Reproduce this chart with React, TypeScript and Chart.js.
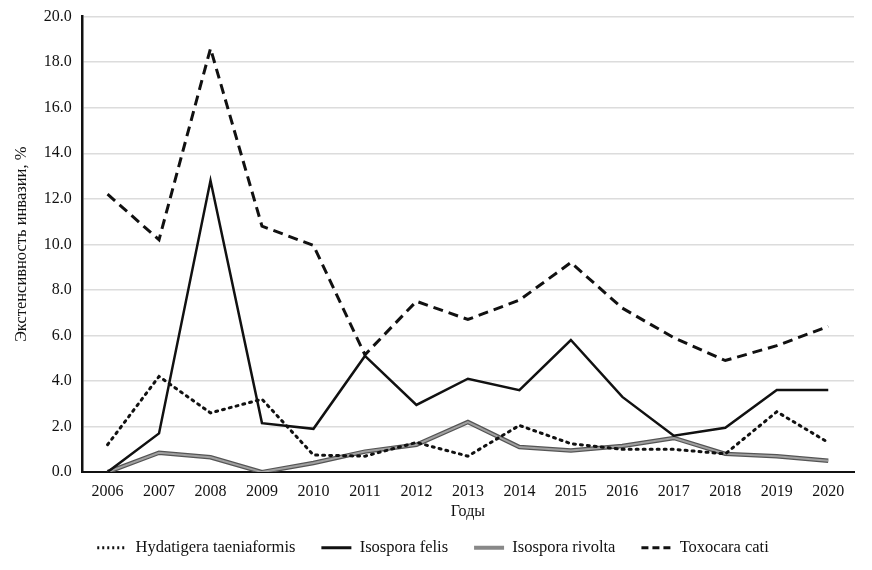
import React, { useEffect, useRef } from "react";
import { Chart, registerables } from "chart.js";

Chart.register(...registerables);

const years = ["2006","2007","2008","2009","2010","2011","2012","2013","2014","2015","2016","2017","2018","2019","2020"];
const hydatigera = [1.2, 4.2, 2.6, 3.2, 0.75, 0.7, 1.3, 0.7, 2.05, 1.25, 1.0, 1.0, 0.8, 2.65, 1.3];
const isosporaFelis = [0.0, 1.7, 12.8, 2.15, 1.9, 5.1, 2.95, 4.1, 3.6, 5.8, 3.3, 1.6, 1.95, 3.6, 3.6];
const isosporaRivolta = [0.0, 0.85, 0.65, 0.0, 0.4, 0.9, 1.2, 2.2, 1.1, 0.95, 1.15, 1.5, 0.8, 0.7, 0.5];
const toxocara = [12.2, 10.2, 18.6, 10.8, 9.95, 5.15, 7.5, 6.7, 7.55, 9.2, 7.2, 5.9, 4.9, 5.55, 6.4];

const FONT = "'Liberation Serif', 'Times New Roman', serif";

export default function App() {
  const ref = useRef<HTMLCanvasElement>(null);
  useEffect(() => {
    if (!ref.current) return;
    const chart = new Chart(ref.current, {
      type: "line",
      data: {
        labels: years,
        datasets: [
          { label: "Hydatigera taeniaformis", data: hydatigera, borderColor: "#111", borderWidth: 3, borderDash: [2, 5], borderCapStyle: "round", pointRadius: 0, tension: 0, order: 0 },
          { label: "Isospora felis", data: isosporaFelis, borderColor: "#111", borderWidth: 2.5, pointRadius: 0, tension: 0, order: 0 },
          { label: "Isospora rivolta", data: isosporaRivolta, borderColor: "#a0a0a0", borderWidth: 2, pointRadius: 0, tension: 0, order: 1 },
          { label: "Toxocara cati", data: toxocara, borderColor: "#111", borderWidth: 3, borderDash: [10, 6], pointRadius: 0, tension: 0, order: 0 },
          { label: "_rivoltaEdge", data: isosporaRivolta, borderColor: "#555", borderWidth: 4.5, pointRadius: 0, tension: 0, order: 2 },
        ],
      },
      options: {
        animation: false,
        responsive: true,
        maintainAspectRatio: false,
        layout: { padding: { left: 4, right: 10, top: 0, bottom: 2 } },
        plugins: {
          legend: {
            position: "bottom",
            labels: {
              usePointStyle: true,
              pointStyleWidth: 30,
              boxHeight: 6,
              padding: 26,
              color: "#111",
              font: { family: FONT, size: 16.5 },
              filter: (item) => !item.text.startsWith("_"),
              generateLabels: (c) =>
                c.data.datasets.map((ds: any, i: number) => ({
                  text: ds.label,
                  datasetIndex: i,
                  fillStyle: ds.label === "Isospora rivolta" ? "#888" : "#111",
                  strokeStyle: ds.label === "Isospora rivolta" ? "#888" : "#111",
                  lineWidth: ds.label === "Isospora rivolta" ? 4 : 3,
                  lineDash: ds.label === "Hydatigera taeniaformis" ? [2, 3] : ds.label === "Toxocara cati" ? [7, 4] : [],
                  lineCap: "butt",
                  pointStyle: "line",
                  hidden: false,
                  fontColor: "#111",
                })),
            },
          },
          tooltip: { enabled: false },
        },
        scales: {
          x: {
            offset: true,
            grid: { display: false, drawTicks: false },
            border: { display: true, color: "#111", width: 2 },
            ticks: { color: "#111", font: { family: FONT, size: 16 }, padding: 10, maxRotation: 0 },
            title: { display: true, text: "Годы", color: "#111", font: { family: FONT, size: 16 }, padding: { top: -9, bottom: -8 } },
          },
          y: {
            min: 0,
            max: 20,
            grid: { color: "#dcdcdc", lineWidth: 1.5, drawTicks: false },
            border: { display: true, color: "#111", width: 2.5 },
            ticks: { stepSize: 2, color: "#111", font: { family: FONT, size: 16 }, padding: 10, callback: (v) => Number(v).toFixed(1) },
            title: { display: true, text: "Экстенсивность инвазии, %", color: "#111", font: { family: FONT, size: 16.5 }, padding: { top: 0, bottom: 2 } },
          },
        },
      },
    });
    return () => chart.destroy();
  }, []);
  return (
    <div style={{ width: 856, height: 571, position: "relative", marginTop: -11 }}>
      <canvas ref={ref} />
    </div>
  );
}
